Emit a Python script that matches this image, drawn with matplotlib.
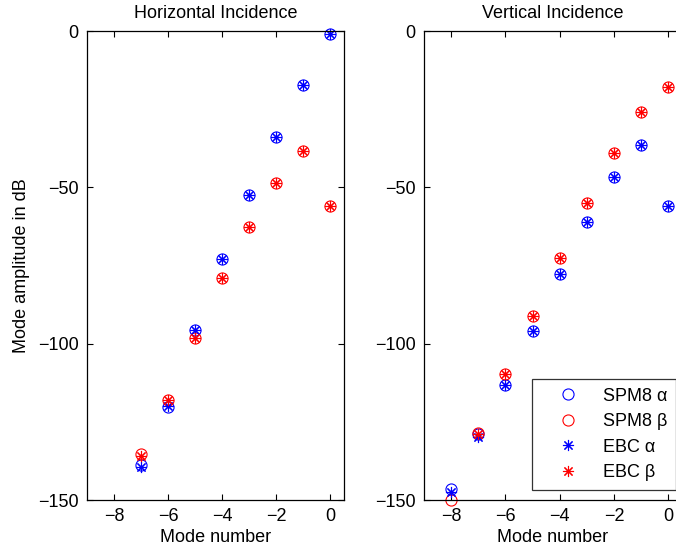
import matplotlib
matplotlib.use('Agg')
import matplotlib.pyplot as plt
import numpy as np

plt.rcParams['font.family'] = ['Liberation Sans', 'DejaVu Sans']
plt.rcParams['font.size'] = 13

# 数据：水平入射
modes_h = [-7, -6, -5, -4, -3, -2, -1, 0]
h_spm_a = [-138.8, -120.2, -95.6, -72.8, -52.5, -33.8, -17.2, -1.1]
h_spm_b = [-135.3, -118.0, -98.1, -79.1, -62.6, -48.5, -38.5, -56.0]
h_ebc_a = [-139.6, -120.0, -95.6, -72.8, -52.5, -33.8, -17.2, -1.1]
h_ebc_b = [-135.9, -118.0, -98.1, -79.1, -62.6, -48.5, -38.5, -56.0]

# 数据：垂直入射
modes_v = [-8, -7, -6, -5, -4, -3, -2, -1, 0]
v_spm_a = [-146.5, -128.9, -113.3, -95.9, -77.7, -61.1, -46.7, -36.5, -56.0]
v_spm_b = [-150.0, -128.6, -109.8, -91.2, -72.6, -55.0, -39.1, -25.8, -18.0]
v_ebc_a = [-147.6, -129.8, -113.3, -95.9, -77.7, -61.1, -46.7, -36.5, -56.0]
v_ebc_b = [np.nan, -128.9, -109.8, -91.2, -72.6, -55.0, -39.1, -25.8, -18.0]

labels = ['SPM8 \u03b1', 'SPM8 \u03b2', 'EBC \u03b1', 'EBC \u03b2']

fig = plt.figure(figsize=(6.76, 5.55), dpi=100)
ax1 = fig.add_axes([87 / 676, 55 / 555, 257 / 676, 469 / 555])
ax2 = fig.add_axes([424 / 676, 55 / 555, 258 / 676, 469 / 555])

star = (8, 2, 0)


def draw(ax, x, sa, sb, ea, eb):
    kw = dict(ls='none', ms=8, mew=0.8, clip_on=False)
    ax.plot(x, sa, marker='o', mfc='none', mec='blue', label=labels[0], **kw)
    ax.plot(x, sb, marker='o', mfc='none', mec='red', label=labels[1], **kw)
    ax.plot(x, ea, marker=star, mec='blue', color='blue', label=labels[2], **kw)
    ax.plot(x, eb, marker=star, mec='red', color='red', label=labels[3], **kw)
    ax.set_xlim(-9, 0.5)
    ax.set_ylim(-150, 0)
    ax.set_xticks([-8, -6, -4, -2, 0])
    ax.set_yticks([-150, -100, -50, 0])
    ax.tick_params(direction='in', top=True, right=True, length=4, width=0.8, pad=6)
    for s in ax.spines.values():
        s.set_linewidth(0.9)
    ax.set_xlabel('Mode number', labelpad=3)


draw(ax1, modes_h, h_spm_a, h_spm_b, h_ebc_a, h_ebc_b)
draw(ax2, modes_v, v_spm_a, v_spm_b, v_ebc_a, v_ebc_b)

ax1.set_title('Horizontal Incidence', fontsize=13, pad=9)
ax2.set_title('Vertical Incidence', fontsize=13, pad=9)
ax1.set_ylabel('Mode amplitude in dB', labelpad=6)

leg = ax2.legend(loc='lower right', bbox_to_anchor=(0.977, 0.021), frameon=True,
                 fancybox=False, edgecolor='black', borderpad=0.5, handletextpad=0.4,
                 labelspacing=0.47, borderaxespad=0, handlelength=3.0)
leg.get_frame().set_linewidth(0.9)

fig.savefig('out.png', dpi=100)
